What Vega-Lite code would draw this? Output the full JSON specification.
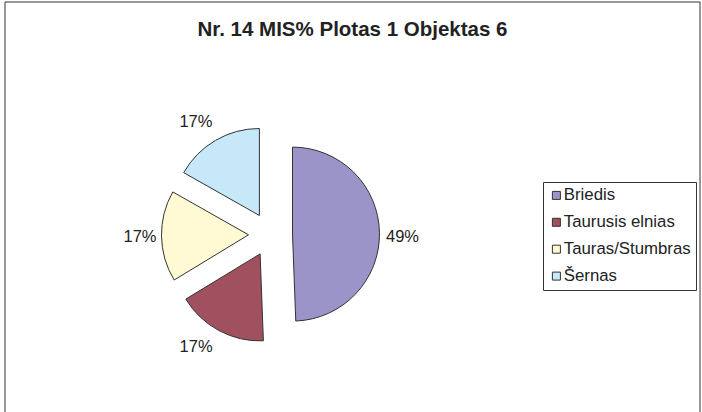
{
  "$schema": "https://vega.github.io/schema/vega-lite/v6.json",
  "width": 695,
  "height": 411,
  "autosize": {"type": "none"},
  "padding": {"left": 5, "top": 2, "right": 2, "bottom": 0},
  "background": "white",
  "config": {"view": {"stroke": null}},
  "title": {
    "text": "Nr. 14 MIS% Plotas 1 Objektas 6",
    "font": "Liberation Sans",
    "fontSize": 20.5,
    "fontWeight": "bold",
    "color": "#222",
    "anchor": "middle",
    "frame": "group",
    "baseline": "alphabetic",
    "offset": -54.7
  },
  "data": {
    "values": [
      {"animal": "Briedis", "share": 0.494, "order": 1},
      {"animal": "Taurusis elnias", "share": 0.169, "order": 2},
      {"animal": "Tauras/Stumbras", "share": 0.169, "order": 3},
      {"animal": "Šernas", "share": 0.168, "order": 4}
    ]
  },
  "transform": [
    {"stack": "share", "groupby": [], "sort": [{"field": "order", "order": "ascending"}], "as": ["v0", "v1"]},
    {"calculate": "(datum.v0 + datum.v1) / 2", "as": "mid"}
  ],
  "layer": [
    {
      "transform": [{"filter": "datum.order === 1"}],
      "mark": {"type": "rect", "fill": null, "stroke": "#333", "strokeWidth": 1},
      "encoding": {
        "x": {"value": 0},
        "x2": {"value": "width"},
        "y": {"value": 0},
        "y2": {"value": "height"}
      }
    },
    {
      "transform": [{"filter": "datum.animal === 'Briedis'"}],
      "mark": {"type": "arc", "x": 265.5, "y": 232.5, "xOffset": 22, "yOffset": -0.4, "outerRadius": 87, "stroke": "#333", "strokeWidth": 1},
      "encoding": {
        "theta": {"field": "v0", "type": "quantitative", "scale": {"domain": [0, 1]}},
        "theta2": {"field": "v1"},
        "color": {
          "field": "animal", "type": "nominal",
          "scale": {"domain": ["Briedis", "Taurusis elnias", "Tauras/Stumbras", "Šernas"], "range": ["#9A94C8", "#A1505F", "#FFFAD4", "#C7E8F8"]},
          "legend": {"orient": "none", "legendX": 538, "legendY": 180, "title": null, "symbolType": "square", "symbolSize": 64, "symbolStrokeColor": "#333", "symbolStrokeWidth": 1, "labelFont": "Liberation Sans", "labelFontSize": 16.8, "labelColor": "#222", "labelOffset": -1, "rowPadding": 8.9, "padding": 5, "strokeColor": "#333", "fillColor": "white"}
        }
      }
    },
    {
      "transform": [{"filter": "datum.animal === 'Taurusis elnias'"}],
      "mark": {"type": "arc", "x": 265.5, "y": 232.5, "xOffset": -10.4, "yOffset": 19.4, "outerRadius": 87, "stroke": "#333", "strokeWidth": 1},
      "encoding": {
        "theta": {"field": "v0", "type": "quantitative", "scale": {"domain": [0, 1]}},
        "theta2": {"field": "v1"},
        "color": {"field": "animal", "type": "nominal"}
      }
    },
    {
      "transform": [{"filter": "datum.animal === 'Tauras/Stumbras'"}],
      "mark": {"type": "arc", "x": 265.5, "y": 232.5, "xOffset": -22, "yOffset": 0.3, "outerRadius": 87, "stroke": "#333", "strokeWidth": 1},
      "encoding": {
        "theta": {"field": "v0", "type": "quantitative", "scale": {"domain": [0, 1]}},
        "theta2": {"field": "v1"},
        "color": {"field": "animal", "type": "nominal"}
      }
    },
    {
      "transform": [{"filter": "datum.animal === 'Šernas'"}],
      "mark": {"type": "arc", "x": 265.5, "y": 232.5, "xOffset": -11.1, "yOffset": -19, "outerRadius": 87, "stroke": "#333", "strokeWidth": 1},
      "encoding": {
        "theta": {"field": "v0", "type": "quantitative", "scale": {"domain": [0, 1]}},
        "theta2": {"field": "v1"},
        "color": {"field": "animal", "type": "nominal"}
      }
    },
    {
      "transform": [{"filter": "datum.animal === 'Briedis'"}],
      "mark": {"type": "text", "x": 265.5, "y": 232.5, "radius": 128, "xOffset": 4, "yOffset": 5, "font": "Liberation Sans", "fontSize": 16.5, "fill": "#222"},
      "encoding": {
        "theta": {"field": "mid", "type": "quantitative", "scale": {"domain": [0, 1]}},
        "text": {"field": "share", "type": "quantitative", "format": ".0%"}
      }
    },
    {
      "transform": [{"filter": "datum.animal === 'Taurusis elnias'"}],
      "mark": {"type": "text", "x": 265.5, "y": 232.5, "radius": 128, "xOffset": -13.8, "yOffset": 0, "font": "Liberation Sans", "fontSize": 16.5, "fill": "#222"},
      "encoding": {
        "theta": {"field": "mid", "type": "quantitative", "scale": {"domain": [0, 1]}},
        "text": {"field": "share", "type": "quantitative", "format": ".0%"}
      }
    },
    {
      "transform": [{"filter": "datum.animal === 'Tauras/Stumbras'"}],
      "mark": {"type": "text", "x": 265.5, "y": 232.5, "radius": 128, "xOffset": -2.5, "yOffset": 0, "font": "Liberation Sans", "fontSize": 16.5, "fill": "#222"},
      "encoding": {
        "theta": {"field": "mid", "type": "quantitative", "scale": {"domain": [0, 1]}},
        "text": {"field": "share", "type": "quantitative", "format": ".0%"}
      }
    },
    {
      "transform": [{"filter": "datum.animal === 'Šernas'"}],
      "mark": {"type": "text", "x": 265.5, "y": 232.5, "radius": 128, "xOffset": -10.1, "yOffset": -1.9, "font": "Liberation Sans", "fontSize": 16.5, "fill": "#222"},
      "encoding": {
        "theta": {"field": "mid", "type": "quantitative", "scale": {"domain": [0, 1]}},
        "text": {"field": "share", "type": "quantitative", "format": ".0%"}
      }
    }
  ]
}
